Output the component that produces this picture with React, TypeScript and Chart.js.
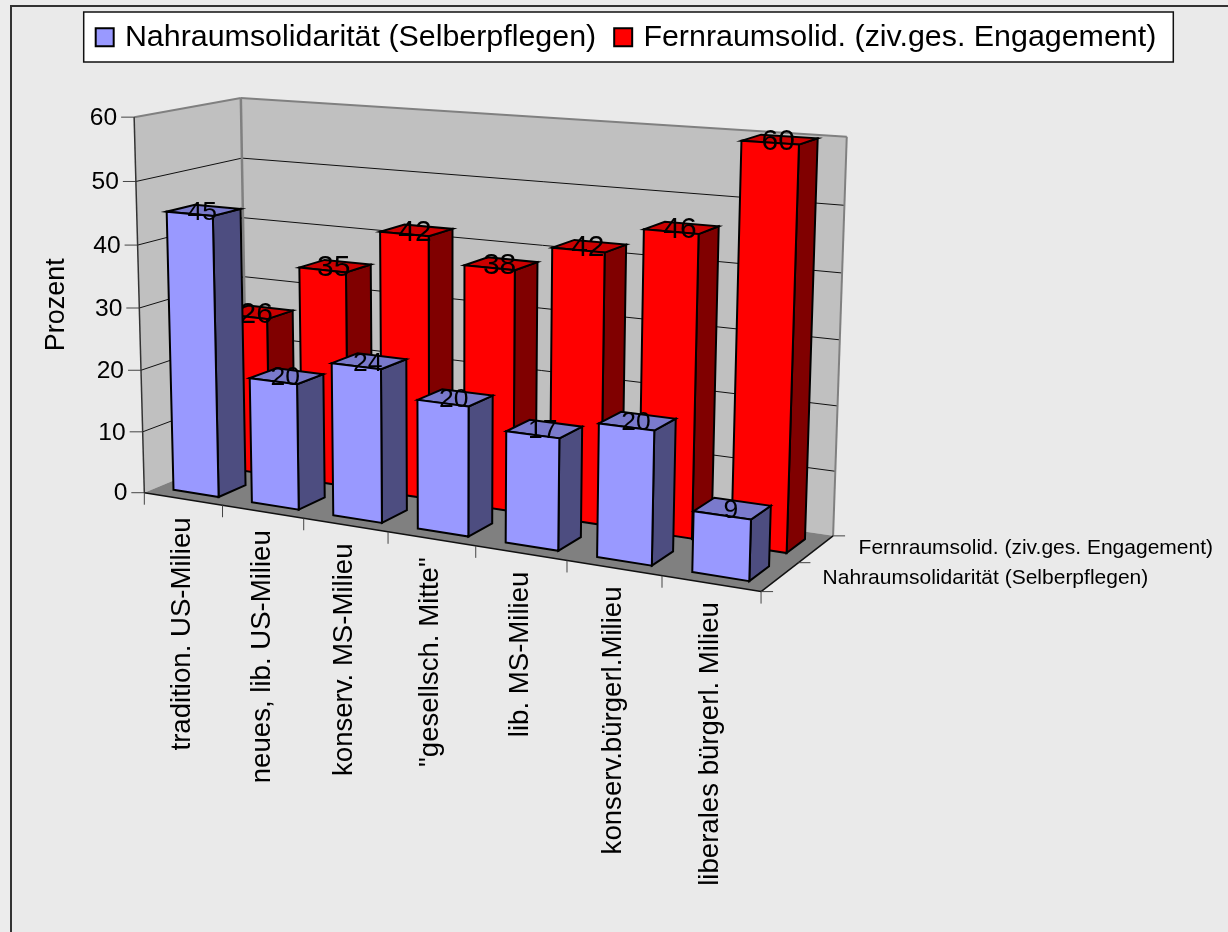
import React, { useEffect, useRef } from "react";
import { Chart, BarController, registerables } from "chart.js";

const categories = [
  "tradition. US-Milieu",
  "neues, lib. US-Milieu",
  "konserv. MS-Milieu",
  '"gesellsch. Mitte"',
  "lib. MS-Milieu",
  "konserv.bürgerl.Milieu",
  "liberales bürgerl. Milieu",
];
const nahraum = [45, 20, 24, 20, 17, 20, 9];
const fernraum = [26, 35, 42, 38, 42, 46, 60];
const seriesNames = ["Nahraumsolidarität (Selberpflegen)", "Fernraumsolid. (ziv.ges. Engagement)"];
const axisTitle = "Prozent";

const FONT = '"Liberation Sans", Arial, sans-serif';

// Camera calibration: box position (category 0..1, depth 0..1, value 0..1) -> picture pixel
const calibration: number[][] = [
  [0, 0, 1, 133, 117],
  [0, 1, 1, 241, 98],
  [1, 1, 1, 847.3, 137],
  [0, 0, 0, 144.3, 492.3],
  [0, 1, 0, 247, 450],
  [1, 1, 0, 833.3, 535.7],
  [1, 0, 0, 761, 590],
  [0, 0, 0.5, 140, 307.3],
  [0, 0, 5 / 6, 136.7, 181.7],
  [0, 1, 5 / 6, 241.7, 158.3],
  [1, 1, 5 / 6, 844, 205.7],
  [1, 1, 4 / 6, 842, 272.3],
  [1 / 7, 0, 0, 222.7, 505],
  [2 / 7, 0, 0, 303.3, 518.3],
  [3 / 7, 0, 0, 388, 532.3],
  [4 / 7, 0, 0, 476, 546.7],
  [5 / 7, 0, 0, 566.7, 561.7],
  [6 / 7, 0, 0, 662, 576],
];

function solveCamera(): number[] {
  const n = 11;
  const A: number[][] = Array.from({ length: n }, () => new Array(n + 1).fill(0));
  const add = (row: number[], rhs: number) => {
    for (let i = 0; i < n; i++) {
      for (let j = 0; j < n; j++) A[i][j] += row[i] * row[j];
      A[i][n] += row[i] * rhs;
    }
  };
  for (const [c, d, t, px, py] of calibration) {
    const u = px / 1000;
    const v = py / 1000;
    add([c, d, t, 1, 0, 0, 0, 0, -u * c, -u * d, -u * t], u);
    add([0, 0, 0, 0, c, d, t, 1, -v * c, -v * d, -v * t], v);
  }
  for (let i = 0; i < n; i++) {
    let p = i;
    for (let r = i + 1; r < n; r++) if (Math.abs(A[r][i]) > Math.abs(A[p][i])) p = r;
    [A[i], A[p]] = [A[p], A[i]];
    for (let r = 0; r < n; r++) {
      if (r === i) continue;
      const f = A[r][i] / A[i][i];
      for (let k = i; k <= n; k++) A[r][k] -= f * A[i][k];
    }
  }
  return A.map((row, i) => row[n] / row[i]);
}
const cam = solveCamera();
function project(c: number, d: number, t: number): [number, number] {
  const w = cam[8] * c + cam[9] * d + cam[10] * t + 1;
  return [
    (1000 * (cam[0] * c + cam[1] * d + cam[2] * t + cam[3])) / w,
    (1000 * (cam[4] * c + cam[5] * d + cam[6] * t + cam[7])) / w,
  ];
}
const decY = (y: any, v: number) => (y.bottom - y.getPixelForValue(v)) / y.height;
const decX = (x: any, i: number) => (x.getPixelForValue(i) - x.left) / x.width;

function poly(ctx: CanvasRenderingContext2D, pts: [number, number][], fill?: string, stroke?: string, lw = 1) {
  ctx.beginPath();
  pts.forEach((p, i) => (i ? ctx.lineTo(p[0], p[1]) : ctx.moveTo(p[0], p[1])));
  ctx.closePath();
  if (fill) {
    ctx.fillStyle = fill;
    ctx.fill();
  }
  if (stroke) {
    ctx.strokeStyle = stroke;
    ctx.lineWidth = lw;
    ctx.lineJoin = "miter";
    ctx.stroke();
  }
}
function line(ctx: CanvasRenderingContext2D, a: [number, number], b: [number, number], color: string, lw = 1) {
  ctx.beginPath();
  ctx.moveTo(a[0], a[1]);
  ctx.lineTo(b[0], b[1]);
  ctx.strokeStyle = color;
  ctx.lineWidth = lw;
  ctx.stroke();
}

const BAR_WIDTH = 0.58;
const DEPTH_GAP = 0.12;
const BAR_LINE = 2;

class Bar3DController extends BarController {
  static id = "bar3d";
  static defaults = BarController.defaults;
  static overrides = BarController.overrides;
  draw() {
    const meta: any = this._cachedMeta;
    const ctx: CanvasRenderingContext2D = this.chart.ctx;
    const ds: any = this.getDataset();
    const x = meta.iScale;
    const y = meta.vScale;
    const catW = 1 / x.getLabels().length;
    const slot = this.index * 0.5;
    const d0 = slot + DEPTH_GAP;
    const d1 = slot + 0.5 - DEPTH_GAP;
    meta.data.forEach((_: any, i: number) => {
      const cx = decX(x, i);
      const c0 = cx - (catW * BAR_WIDTH) / 2;
      const c1 = cx + (catW * BAR_WIDTH) / 2;
      const val = this.getParsed(i).y;
      const t = decY(y, val);
      poly(ctx, [project(c1, d0, 0), project(c1, d1, 0), project(c1, d1, t), project(c1, d0, t)], ds.sideColor, "#000", BAR_LINE);
      poly(ctx, [project(c0, d0, t), project(c1, d0, t), project(c1, d1, t), project(c0, d1, t)], ds.topColor, "#000", BAR_LINE);
      poly(ctx, [project(c0, d0, 0), project(c1, d0, 0), project(c1, d0, t), project(c0, d0, t)], ds.backgroundColor, "#000", BAR_LINE);
      const lp = project(cx, (d0 + d1) / 2, t);
      ctx.fillStyle = "#000";
      ctx.font = `${ds.labelSize}px ${FONT}`;
      ctx.textAlign = "center";
      ctx.textBaseline = "middle";
      ctx.fillText(String(val), lp[0] - 1.5, lp[1] + 2);
    });
  }
}

const stage = {
  id: "stage",
  beforeDraw(chart: any) {
    const ctx: CanvasRenderingContext2D = chart.ctx;
    ctx.save();
    ctx.fillStyle = "#ececec";
    ctx.fillRect(0, 0, chart.width, chart.height);
    ctx.fillStyle = "#eaeaea";
    ctx.fillRect(11, 6, chart.width, chart.height);
    ctx.strokeStyle = "#333";
    ctx.lineWidth = 2;
    ctx.beginPath();
    ctx.moveTo(11, chart.height + 2);
    ctx.lineTo(11, 6);
    ctx.lineTo(chart.width + 2, 6);
    ctx.stroke();
    const boxes = chart.legend.legendHitBoxes;
    const first = boxes[0];
    const last = boxes[boxes.length - 1];
    const l = first.left - 16;
    const r = last.left + last.width + 17;
    ctx.fillStyle = "#fff";
    ctx.fillRect(l, 12, r - l, 50);
    ctx.strokeStyle = "#111";
    ctx.lineWidth = 1.5;
    ctx.strokeRect(l, 12, r - l, 50);
    ctx.restore();
  },
  beforeDatasetsDraw(chart: any) {
    const ctx: CanvasRenderingContext2D = chart.ctx;
    const y = chart.scales.y;
    const x = chart.scales.x;
    ctx.save();
    const wall = "#c0c0c0";
    const edge = "#808080";
    poly(ctx, [project(0, 0, 0), project(0, 1, 0), project(0, 1, 1), project(0, 0, 1)], wall);
    poly(ctx, [project(0, 1, 0), project(1, 1, 0), project(1, 1, 1), project(0, 1, 1)], wall);
    poly(ctx, [project(0, 0, 0), project(1, 0, 0), project(1, 1, 0), project(0, 1, 0)], "#808080");
    // value gridlines and tick labels
    ctx.font = `24.6px ${FONT}`;
    ctx.textAlign = "right";
    ctx.textBaseline = "middle";
    y.ticks.forEach((tick: any) => {
      const t = decY(y, tick.value);
      const a = project(0, 0, t);
      if (tick.value > 0 && tick.value < 60) {
        line(ctx, a, project(0, 1, t), "#111", 1);
        line(ctx, project(0, 1, t), project(1, 1, t), "#111", 1);
      }
      line(ctx, [a[0] - 13, a[1]], a, "#444", 1);
      ctx.fillStyle = "#000";
      ctx.fillText(tick.label, a[0] - 17, a[1] + 1);
    });
    // wall edges
    line(ctx, project(0, 0, 1), project(0, 1, 1), edge, 2);
    line(ctx, project(0, 1, 1), project(1, 1, 1), edge, 2);
    line(ctx, project(1, 1, 1), project(1, 1, 0), edge, 2);
    line(ctx, project(0, 1, 1), project(0, 1, 0), edge, 2.5);
    line(ctx, project(0, 0, 1), project(0, 0, 0), "#333", 1.5);
    line(ctx, project(0, 0, 0), project(1, 0, 0), "#111", 1.5);
    line(ctx, project(1, 0, 0), project(1, 1, 0), "#111", 1.5);
    // category ticks and labels
    const labels: string[] = x.getLabels();
    const n = labels.length;
    for (let i = 0; i <= n; i++) {
      const a = project(i / n, 0, 0);
      line(ctx, a, [a[0], a[1] + 12], "#444", 1);
    }
    ctx.fillStyle = "#000";
    ctx.font = `27.6px ${FONT}`;
    labels.forEach((lab, i) => {
      const p = project(decX(x, i), 0, 0);
      ctx.save();
      ctx.translate(p[0] + 7, p[1] + 18.5);
      ctx.rotate(-Math.PI / 2);
      ctx.textAlign = "right";
      ctx.textBaseline = "alphabetic";
      ctx.fillText(lab, 0, 0);
      ctx.restore();
    });
    // depth ticks and series labels
    [0, 0.5, 1].forEach((d) => {
      const a = project(1, d, 0);
      line(ctx, a, [a[0] + 12, a[1]], "#444", 1);
    });
    ctx.font = `21px ${FONT}`;
    ctx.textAlign = "left";
    ctx.textBaseline = "middle";
    chart.data.datasets.forEach((ds: any, i: number) => {
      const p = project(1, 0.25 + i * 0.5, 0);
      ctx.fillStyle = "#000";
      ctx.fillText(ds.label, p[0] + 42.5, p[1] + (i ? -1 : 1));
    });
    ctx.restore();
  },
};

Chart.register(...registerables, Bar3DController);

export default function App() {
  const ref = useRef<HTMLCanvasElement>(null);
  useEffect(() => {
    const chart = new Chart(ref.current!, {
      type: "bar3d" as any,
      data: {
        labels: categories,
        datasets: [
          {
            label: seriesNames[0],
            data: nahraum,
            backgroundColor: "#9999ff",
            sideColor: "#4d4d80",
            topColor: "#7a7acc",
            labelSize: 26.5,
            borderColor: "#000",
            borderWidth: 2,
            clip: false,
          },
          {
            label: seriesNames[1],
            data: fernraum,
            backgroundColor: "#ff0000",
            sideColor: "#800000",
            topColor: "#cc0000",
            labelSize: 30,
            borderColor: "#000",
            borderWidth: 2,
            clip: false,
          },
        ] as any,
      },
      options: {
        animation: false,
        responsive: false,
        devicePixelRatio: 1,
        layout: { padding: { left: 28, right: 0, top: 0, bottom: 385 } },
        scales: {
          x: { type: "category", display: false, offset: true },
          y: {
            type: "linear",
            min: 0,
            max: 60,
            ticks: { stepSize: 10, display: false },
            grid: { display: false },
            border: { display: false },
            title: {
              display: true,
              text: axisTitle,
              color: "#000",
              font: { family: FONT, size: 27 },
              padding: { top: 12, bottom: 4 },
            },
          },
        },
        plugins: {
          legend: {
            position: "top",
            labels: {
              usePointStyle: true,
              pointStyle: "rect",
              boxWidth: 10,
              boxHeight: 18,
              padding: 22,
              color: "#000",
              font: { family: FONT, size: 30.4 },
            },
          },
          tooltip: { enabled: false },
        },
      } as any,
      plugins: [stage],
    });
    return () => chart.destroy();
  }, []);
  return (
    <canvas
      ref={ref}
      width={1228}
      height={932}
      style={{ position: "absolute", left: 0, top: 0, display: "block" }}
    />
  );
}
